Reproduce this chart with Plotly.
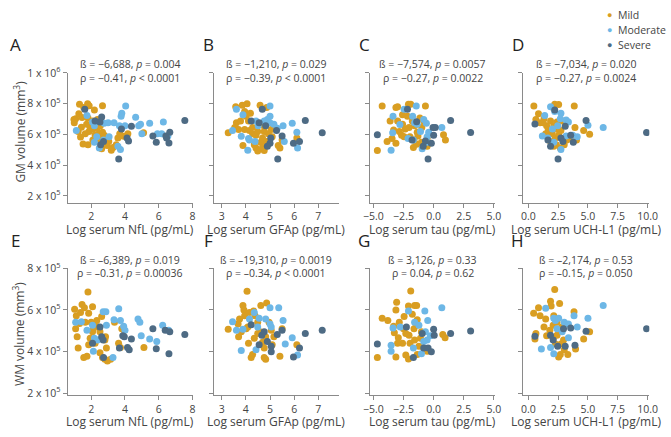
import plotly.graph_objects as go

W, H = 671, 437

MILD = "#D99E22"
MODERATE = "#6DB7E6"
SEVERE = "#4E6B84"

# volumes below are in units of 1e5 mm^3

# A: NfL vs GM
A_mild_x = [1.31, 1.56, 1.79, 1.88, 2.19, 2.67, 1.08, 1.27, 1.46, 1.81, 2.08, 2.37, 1.0, 1.23, 1.65, 1.87, 2.08, 2.23, 2.48,
            1.52, 1.81, 2.1, 2.52, 2.62, 2.81, 3.04, 3.19, 3.48, 3.58, 3.69, 3.92, 4.17, 5.1, 2.54, 2.35, 2.67, 2.77, 1.73,
            1.42, 0.98, 1.37, 1.94, 2.94, 3.29, 2.19]
A_mild_y = [7.96, 7.75, 8.0, 7.86, 7.59, 7.86, 7.01, 7.34, 7.09, 7.07, 6.87, 6.97, 6.76, 6.19, 6.04, 6.19, 6.35, 5.98, 6.08,
            5.38, 5.32, 5.63, 5.69, 5.07, 5.63, 5.53, 4.97, 5.32, 5.77, 6.04, 5.88, 6.04, 6.1, 6.56, 6.39, 6.14, 5.94, 6.66,
            6.47, 6.97, 5.83, 6.45, 5.28, 5.15, 6.76]
A_mod_x = [1.12, 1.75, 2.08, 2.19, 2.33, 2.19, 2.48, 2.77, 3.0, 3.35, 3.67, 3.77, 3.81, 4.04, 4.0, 4.63, 4.81, 4.92, 5.0,
           5.46, 6.27, 6.17, 6.54, 3.73, 3.58, 5.92, 3.06, 2.73]
A_mod_y = [6.25, 7.22, 6.8, 6.56, 5.84, 5.48, 5.11, 6.72, 6.76, 6.76, 6.56, 7.18, 7.38, 7.84, 6.56, 7.11, 6.56, 6.66, 6.04,
           6.72, 6.8, 6.04, 5.9, 5.01, 5.22, 6.04, 5.84, 5.63]
A_sev_x = [1.62, 2.62, 2.52, 2.56, 2.73, 3.63, 4.21, 4.12, 4.38, 3.79, 5.65, 5.85, 6.42, 6.65, 6.6, 7.54, 6.46, 2.23]
A_sev_y = [7.63, 7.13, 6.8, 5.32, 5.53, 4.39, 5.57, 5.77, 6.52, 6.35, 5.9, 5.48, 5.9, 6.14, 5.44, 6.91, 5.77, 6.87]

# B: GFAp vs GM
B_mild_x = [3.27, 3.58, 3.61, 3.78, 3.85, 4.05, 3.95, 4.01, 4.19, 4.11, 3.7, 3.95, 4.15, 4.28, 4.42, 3.88, 4.35, 4.59, 4.86,
            4.59, 4.76, 4.76, 4.49, 4.69, 4.62, 4.86, 4.69, 4.76, 4.42, 4.93, 5.05, 5.34, 5.41, 5.5, 6.11, 3.54, 4.28, 4.49,
            4.89, 5.09]
B_mild_y = [6.1, 7.79, 6.76, 6.87, 7.9, 8.0, 7.48, 7.18, 7.38, 6.87, 6.31, 6.31, 6.25, 6.04, 5.94, 5.28, 5.32, 7.9, 7.75,
            6.66, 6.52, 6.19, 6.19, 5.77, 5.48, 5.53, 5.15, 4.95, 5.11, 6.04, 6.31, 5.28, 5.11, 5.63, 5.77, 6.45, 6.45, 4.91,
            5.32, 5.84]
B_mod_x = [3.45, 3.61, 3.88, 3.81, 4.08, 4.11, 4.42, 4.51, 4.89, 5.0, 5.0, 5.0, 5.3, 5.54, 5.59, 5.92, 6.11, 6.14, 4.38,
           4.15, 5.16, 4.76]
B_mod_y = [6.25, 7.63, 7.28, 5.88, 4.97, 5.73, 6.87, 6.56, 6.97, 7.84, 7.18, 6.76, 6.39, 6.56, 5.53, 6.72, 6.14, 5.11, 5.53,
           5.63, 6.66, 6.87]
B_sev_x = [4.22, 4.68, 4.55, 5.03, 5.0, 4.89, 5.32, 5.5, 5.97, 6.22, 6.46, 7.16, 5.27, 4.82]
B_sev_y = [6.87, 7.63, 6.76, 5.77, 5.42, 5.22, 4.39, 5.9, 5.42, 5.53, 6.91, 6.1, 6.25, 6.56]

# C: tau vs GM
C_mild_x = [-4.27, -4.67, -3.86, -3.13, -2.99, -3.61, -3.32, -3.13, -2.85, -2.58, -2.09, -1.9, -0.68, -2.17, -1.77, -2.45,
            -1.96, -1.63, -1.68, -1.36, -1.3, -0.98, -1.01, -1.41, -0.54, 0.82, 0.98, -2.04, -2.66, -2.99, -1.14, -0.82,
            -0.54, -2.36, -1.58, -2.58, -3.45]
C_mild_y = [7.84, 4.95, 5.53, 7.75, 7.79, 6.87, 6.29, 5.42, 6.19, 6.66, 7.96, 7.96, 7.84, 7.18, 6.87, 5.84, 5.84, 5.63, 5.15,
            6.14, 5.9, 6.45, 5.48, 5.36, 5.22, 5.98, 5.63, 6.45, 5.94, 6.87, 7.07, 6.87, 5.73, 6.35, 6.56, 7.28, 5.73]
C_mod_x = [-3.37, -3.4, -3.53, -2.8, -2.45, -1.44, -1.74, -1.58, -1.36, -0.82, -0.6, -1.09, -0.54, -0.54, -0.95, 0.68, -1.68,
           -2.12, -0.41]
C_mod_y = [7.18, 6.1, 4.97, 6.64, 7.63, 7.84, 7.18, 6.76, 6.66, 6.97, 6.72, 6.19, 5.84, 5.48, 5.07, 6.45, 5.63, 5.73, 6.14]
C_sev_x = [-4.67, -2.17, -1.41, -1.79, -0.87, -0.46, -0.19, 0.0, -0.05, 0.14, 1.41, 3.07, -0.68]
C_sev_y = [5.98, 7.63, 6.82, 5.63, 5.22, 4.39, 5.42, 5.94, 6.45, 6.45, 6.91, 6.12, 5.57]

# D: UCH-L1 vs GM
D_mild_x = [0.46, 0.85, 0.63, 0.98, 1.31, 1.53, 1.45, 2.08, 2.21, 2.54, 1.86, 2.13, 2.4, 2.49, 2.0, 2.27, 1.86, 2.35, 2.68,
            3.01, 3.22, 3.55, 3.85, 3.91, 4.04, 4.64, 5.14, 2.73, 2.54, 2.13, 2.81, 1.67, 1.23]
D_mild_y = [7.84, 7.34, 6.97, 6.76, 7.01, 6.56, 6.04, 7.75, 7.96, 7.94, 6.87, 6.56, 6.8, 6.31, 6.04, 5.77, 5.53, 5.32, 5.11,
            5.32, 5.63, 5.77, 7.84, 6.45, 5.63, 6.25, 6.0, 6.25, 5.94, 5.22, 6.87, 6.31, 6.76]
D_mod_x = [1.37, 1.17, 1.64, 1.86, 2.21, 2.73, 2.68, 2.46, 3.17, 3.36, 3.17, 3.72, 4.1, 2.73, 2.13, 5.0, 6.28, 2.02]
D_mod_y = [7.22, 5.9, 5.77, 7.79, 7.48, 7.38, 7.01, 6.56, 6.93, 6.8, 5.9, 5.94, 5.84, 5.01, 5.48, 6.6, 6.45, 6.35]
D_sev_x = [0.55, 2.21, 1.64, 1.86, 2.49, 2.73, 3.09, 3.55, 3.77, 4.84, 9.92, 2.9]
D_sev_y = [6.68, 7.59, 5.63, 5.22, 4.39, 5.77, 6.52, 5.94, 5.48, 6.91, 6.12, 5.53]

# E: NfL vs WM
E_mild_x = [1.31, 1.02, 1.12, 1.08, 1.17, 1.23, 1.37, 1.46, 1.6, 1.65, 1.56, 1.75, 1.85, 2.08, 2.0, 2.08, 1.94, 1.85, 2.23,
            2.33, 2.38, 2.52, 2.62, 2.52, 2.67, 2.81, 2.96, 3.15, 2.81, 2.9, 2.85, 3.38, 3.62, 3.73, 3.81, 3.96, 5.12, 1.81,
            2.08, 2.19]
E_mild_y = [5.35, 6.03, 5.72, 5.1, 4.71, 4.17, 5.88, 6.26, 6.11, 5.41, 3.71, 3.78, 5.84, 6.16, 5.41, 4.95, 4.64, 4.33, 4.4,
            5.49, 5.18, 4.95, 5.69, 3.94, 3.71, 3.63, 3.55, 3.63, 4.56, 4.17, 4.71, 5.41, 4.4, 4.2, 5.1, 5.02, 4.2, 6.86,
            5.02, 5.26]
E_mod_x = [1.08, 1.42, 1.75, 2.08, 2.19, 2.13, 2.38, 2.71, 2.87, 2.9, 3.35, 3.29, 3.63, 3.73, 4.0, 3.92, 4.77, 4.88, 4.96,
           5.46, 5.88, 6.23, 6.58]
E_mod_y = [5.41, 5.44, 5.02, 5.26, 4.64, 4.02, 4.56, 5.91, 5.91, 5.26, 5.53, 3.71, 6.06, 5.49, 5.02, 5.22, 5.57, 5.41, 4.76,
           4.6, 4.48, 5.26, 5.02]
E_sev_x = [2.08, 2.52, 2.62, 2.71, 2.73, 3.67, 3.87, 3.96, 4.15, 4.25, 4.38, 5.65, 5.85, 6.38, 6.65, 6.6, 7.54]
E_sev_y = [4.4, 5.18, 4.71, 4.56, 3.71, 4.17, 4.76, 4.71, 4.2, 4.09, 4.6, 5.1, 4.14, 5.02, 4.95, 3.89, 4.82]

# F: GFAp vs WM
F_mild_x = [3.27, 3.68, 3.7, 3.88, 3.92, 3.95, 4.01, 4.05, 4.11, 4.22, 4.28, 4.32, 4.38, 4.49, 4.62, 4.59, 4.69, 4.76, 4.76,
            4.82, 4.86, 4.96, 5.05, 5.09, 5.41, 5.5, 6.11, 3.81, 4.08, 4.35, 4.49, 3.74, 4.15, 4.82, 5.16]
F_mild_y = [5.07, 5.33, 4.71, 6.22, 6.0, 5.72, 5.1, 6.9, 4.4, 3.71, 3.86, 5.95, 5.72, 5.41, 6.22, 4.95, 4.45, 4.17, 3.71,
            3.63, 6.34, 5.41, 5.02, 4.33, 3.78, 5.1, 4.33, 4.95, 5.18, 4.64, 4.87, 5.57, 5.88, 4.71, 4.71]
F_mod_x = [3.45, 3.61, 3.81, 3.88, 4.15, 4.35, 4.49, 4.55, 4.82, 5.0, 5.05, 5.0, 5.36, 5.54, 5.63, 5.92, 6.14, 4.42]
F_mod_y = [5.44, 5.02, 4.05, 5.07, 5.57, 5.88, 5.18, 5.6, 5.57, 6.11, 5.18, 5.33, 6.11, 5.49, 4.36, 4.67, 3.83, 4.09]
F_sev_x = [4.22, 4.55, 4.66, 4.89, 5.05, 5.05, 5.3, 5.5, 5.97, 6.22, 6.46, 7.16, 4.76]
F_sev_y = [5.29, 4.33, 4.79, 4.48, 4.25, 3.99, 4.82, 5.02, 3.74, 4.17, 4.87, 5.02, 4.95]

# G: tau vs WM
G_mild_x = [-4.27, -4.67, -3.8, -3.07, -3.13, -3.32, -3.13, -2.85, -2.93, -2.58, -2.31, -2.09, -1.9, -2.09, -1.58, -1.41,
            -1.77, -1.63, -2.04, -1.96, -1.36, -1.01, -1.09, -1.22, -0.54, -0.82, 0.76, 0.95, -2.5, -2.31, -1.58, -1.41,
            -2.45, -3.26, -2.99, -1.36]
G_mild_y = [5.6, 3.71, 5.49, 6.37, 6.0, 5.22, 3.74, 5.41, 4.67, 4.4, 3.83, 3.64, 6.91, 6.19, 6.22, 6.22, 5.8, 5.1, 4.79, 4.4,
            5.53, 4.95, 4.64, 4.25, 4.02, 4.17, 4.82, 4.67, 5.1, 4.87, 4.56, 5.26, 5.69, 4.91, 4.4, 3.86]
G_mod_x = [-3.37, -3.53, -3.53, -2.77, -2.09, -1.58, -1.22, -0.73, -0.49, -0.68, -0.54, -0.82, -1.01, 0.68, -1.68, -0.27]
G_mod_y = [5.13, 4.3, 4.02, 5.18, 5.95, 5.41, 5.26, 5.95, 5.49, 4.95, 4.56, 4.48, 3.89, 6.11, 4.17, 4.76]
G_sev_x = [-4.67, -2.26, -1.68, -0.82, -0.46, -0.19, 0.0, 0.05, 1.41, 3.07, -0.95]
G_sev_y = [4.36, 5.18, 3.71, 4.17, 4.17, 3.99, 5.07, 4.79, 4.87, 4.99, 4.87]

# H: UCH-L1 vs WM
H_mild_x = [0.44, 0.85, 0.63, 0.55, 0.98, 1.31, 1.53, 1.86, 1.91, 2.21, 2.62, 2.13, 2.4, 2.54, 2.08, 2.27, 2.68, 2.54, 3.01,
            3.31, 3.83, 3.96, 4.64, 5.14, 2.81, 2.4, 1.8, 2.95, 1.45, 2.73, 2.08]
H_mild_y = [5.84, 6.11, 4.87, 4.6, 5.72, 5.18, 4.76, 6.42, 6.19, 6.99, 6.31, 5.72, 5.41, 5.07, 4.64, 4.36, 3.86, 3.74, 4.09,
            3.86, 5.91, 4.12, 4.6, 4.95, 5.18, 4.79, 5.02, 4.56, 5.57, 4.36, 5.26]
H_mod_x = [1.45, 1.09, 1.86, 2.13, 2.27, 2.54, 3.01, 3.36, 3.83, 4.1, 3.36, 2.13, 5.0, 6.28, 2.4, 2.84]
H_mod_y = [6.08, 4.12, 4.2, 5.6, 5.49, 5.6, 5.41, 5.33, 5.72, 5.18, 4.67, 3.89, 5.6, 6.22, 5.1, 4.95]
H_sev_x = [0.55, 1.86, 2.08, 2.46, 3.09, 3.55, 3.91, 2.95, 4.84, 9.92]
H_sev_y = [4.74, 4.79, 4.56, 4.25, 4.25, 5.13, 4.3, 5.1, 4.98, 5.1]

x_titles = ["Log serum NfL (pg/mL)", "Log serum GFAp (pg/mL)", "Log serum tau (pg/mL)", "Log serum UCH-L1 (pg/mL)"]
stats = [
    ("ß = −6,688, <i>p</i> = 0.004", "ρ = −0.41, <i>p</i> &lt; 0.0001"),
    ("ß = −1,210, <i>p</i> = 0.029", "ρ = −0.39, <i>p</i> &lt; 0.0001"),
    ("ß = −7,574, <i>p</i> = 0.0057", "ρ = −0.27, <i>p</i> = 0.0022"),
    ("ß = −7,034, <i>p</i> = 0.020", "ρ = −0.27, <i>p</i> = 0.0024"),
    ("ß = –6,389, <i>p</i> = 0.019", "ρ = –0.31, <i>p</i> = 0.00036"),
    ("ß = –19,310, <i>p</i> = 0.0019", "ρ = –0.34, <i>p</i> &lt; 0.0001"),
    ("ß = 3,126, <i>p</i> = 0.33", "ρ = 0.04, <i>p</i> = 0.62"),
    ("ß = –2,174, <i>p</i> = 0.53", "ρ = –0.15, <i>p</i> = 0.050"),
]
groups = ["Mild", "Moderate", "Severe"]
group_colors = [MILD, MODERATE, SEVERE]
data = [
    (A_mild_x, A_mild_y, A_mod_x, A_mod_y, A_sev_x, A_sev_y),
    (B_mild_x, B_mild_y, B_mod_x, B_mod_y, B_sev_x, B_sev_y),
    (C_mild_x, C_mild_y, C_mod_x, C_mod_y, C_sev_x, C_sev_y),
    (D_mild_x, D_mild_y, D_mod_x, D_mod_y, D_sev_x, D_sev_y),
    (E_mild_x, E_mild_y, E_mod_x, E_mod_y, E_sev_x, E_sev_y),
    (F_mild_x, F_mild_y, F_mod_x, F_mod_y, F_sev_x, F_sev_y),
    (G_mild_x, G_mild_y, G_mod_x, G_mod_y, G_sev_x, G_sev_y),
    (H_mild_x, H_mild_y, H_mod_x, H_mod_y, H_sev_x, H_sev_y),
]

# pixel layout of the panels
col_px = [(62, 191), (212, 340), (372, 500), (529, 658)]
row_px = [(66, 200), (268, 399)]
title_y = [228, 426]
letter_x = [9, 206, 366, 523]
x_ranges = [[0.6, 8.05], [2.68, 7.85], [-5.27, 5.1], [-0.42, 10.15]]
x_ticks = [[2, 4, 6, 8], [3, 4, 5, 6, 7], [-5, -2.5, 0, 2.5, 5], [0, 2.5, 5, 7.5, 10]]
x_fmt = ["", "", ".1f", ".1f"]
y_ranges = [[1.56e5, 1.0e6], [1.9e5, 8.0e5]]
y_ticks = [[2e5, 4e5, 6e5, 8e5, 1e6], [2e5, 4e5, 6e5, 8e5]]
y_ticktext = [["2 x 10<sup>5</sup>", "4 x 10<sup>5</sup>", "6 x 10<sup>5</sup>", "8 x 10<sup>5</sup>", "1 x 10<sup>6</sup>"],
              ["2 x 10<sup>5</sup>", "4 x 10<sup>5</sup>", "6 x 10<sup>5</sup>", "8 x 10<sup>5</sup>"]]

AXIS_COL = "#8a8a8a"
TEXT_COL = "#444444"


def px_x(v):
    return v / W


def px_y(v):
    return 1 - v / H


def label(text, x, y, size, color=TEXT_COL, xanchor="center", angle=0):
    return dict(text=text, x=px_x(x), y=px_y(y), xref="paper", yref="paper", xanchor=xanchor, yanchor="middle",
                showarrow=False, textangle=angle, font=dict(size=size, color=color))


fig = go.Figure()
annotations = []
layout = {}

for i in range(8):
    row, col = divmod(i, 4)
    n = i + 1
    suffix = "" if n == 1 else str(n)
    cols = data[i]
    for g in range(3):
        fig.add_trace(go.Scatter(
            x=cols[2 * g], y=[v * 1e5 for v in cols[2 * g + 1]], mode="markers", name=groups[g],
            marker=dict(color=group_colors[g], size=7, line=dict(width=0)),
            xaxis="x" + suffix, yaxis="y" + suffix, showlegend=False,
        ))

    x0, x1 = col_px[col]
    y0, y1 = row_px[row]
    layout["xaxis" + suffix] = dict(
        domain=[px_x(x0), px_x(x1)], range=x_ranges[col], tickvals=x_ticks[col], tickformat=x_fmt[col],
        showline=True, linecolor=AXIS_COL, linewidth=1, ticks="outside", ticklen=4, tickcolor=AXIS_COL,
        showgrid=False, zeroline=False, anchor="y" + suffix, tickfont=dict(size=10.5, color=TEXT_COL),
    )
    layout["yaxis" + suffix] = dict(
        domain=[px_y(y1), px_y(y0)], range=y_ranges[row], tickvals=y_ticks[row], ticktext=y_ticktext[row],
        showticklabels=(col == 0), showline=True, linecolor=AXIS_COL, linewidth=1, ticks="outside", ticklen=4,
        tickcolor=AXIS_COL, showgrid=False, zeroline=False, anchor="x" + suffix,
        tickfont=dict(size=10.5, color=TEXT_COL),
    )

    cx = (x0 + x1) / 2
    annotations.append(label("ABCDEFGH"[i], letter_x[col], y0 - 29, 17, color="#222222"))
    annotations.append(label(stats[i][0], cx, y0 - 9, 10.5))
    annotations.append(label(stats[i][1], cx, y0 + 5, 10.5))
    annotations.append(label(x_titles[col], cx, title_y[row], 12))

annotations.append(label("GM volume (mm<sup>3</sup>)", 13, 127, 12, angle=-90))
annotations.append(label("WM volume (mm<sup>3</sup>)", 13, 336, 12, angle=-90))

# legend (top right)
for g in range(3):
    ly = 6 + 15.5 * g
    annotations.append(label("●", 617, ly, 9, color=group_colors[g]))
    annotations.append(label(groups[g], 624, ly, 10.5, xanchor="left"))

fig.update_layout(
    width=W, height=H,
    margin=dict(l=0, r=0, t=0, b=0),
    paper_bgcolor="white", plot_bgcolor="white",
    font=dict(family="Open Sans", color=TEXT_COL),
    annotations=annotations,
    showlegend=False,
    **layout,
)

# drop the default page margin so the figure sits at the window origin
fig.write_html("out.html", config={"displayModeBar": False},
               post_script="document.body.style.margin = '0px';")
